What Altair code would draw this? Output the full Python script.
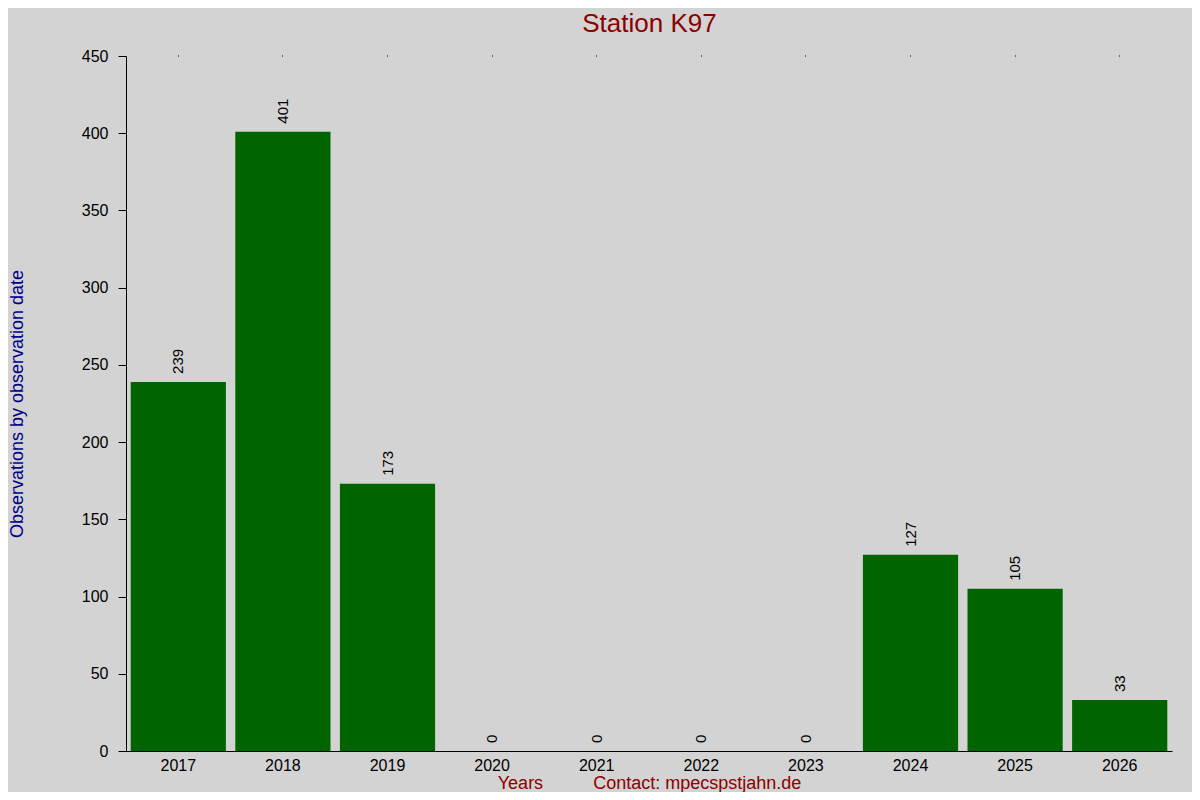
import altair as alt
import pandas as pd

years = ["2017", "2018", "2019", "2020", "2021", "2022", "2023", "2024", "2025", "2026"]
counts = [239, 401, 173, 0, 0, 0, 0, 127, 105, 33]

df = pd.DataFrame({"year": years, "count": counts})

FONT = "Liberation Sans"
x_title = "Years" + "\u00a0" * 10 + "Contact: mpecspstjahn.de"

xscale = alt.Scale(paddingInner=0.09, paddingOuter=0.045)
yscale = alt.Scale(domain=[0, 450], nice=False)

base = alt.Chart(df)

bars = base.mark_bar(color="#006400").encode(
    x=alt.X("year:N", sort=years, scale=xscale,
            axis=alt.Axis(title=x_title, labelAngle=0, tickSize=0, labelPadding=6,
                          labelFontSize=16, labelColor="black", labelFont=FONT,
                          domainColor="black", titleColor="#8b0000", titleFont=FONT,
                          titleFontSize=18, titleFontWeight="normal",
                          titleBaseline="alphabetic", titleY=37)),
    y=alt.Y("count:Q", scale=yscale,
            axis=alt.Axis(title="Observations by observation date", values=list(range(0, 451, 50)),
                          tickSize=8, tickColor="black", domainColor="black", grid=False,
                          labelFontSize=16, labelColor="black", labelFont=FONT, labelPadding=10,
                          titleColor="#00008b", titleFont=FONT, titleFontSize=18,
                          titleFontWeight="normal", titleX=-100, titleBaseline="bottom")),
)

labels = base.mark_text(angle=270, align="left", baseline="middle", dx=8,
                        fontSize=15, font=FONT, color="black").encode(
    x=alt.X("year:N", sort=years, scale=xscale, axis=None),
    y=alt.Y("count:Q", scale=yscale),
    text="count:Q",
)

topticks = base.mark_bar(opacity=0).encode(
    x=alt.X("year:N", sort=years, scale=xscale,
            axis=alt.Axis(orient="top", title="Station K97", labels=False, domain=False,
                          tickSize=1, tickColor="black",
                          titleColor="#8b0000", titleFont=FONT, titleFontSize=26,
                          titleFontWeight="normal", titleBaseline="alphabetic", titleY=-25)),
    y=alt.Y("count:Q", scale=yscale),
)

chart = alt.layer(bars, labels, topticks).resolve_axis(x="independent").properties(
    width=1046, height=695,
    padding={"left": 118, "top": 48, "right": 20, "bottom": 41},
    autosize=alt.AutoSizeParams(type="none"),
    background="#d3d3d3",
).configure_view(stroke=None)

chart.save("out.html", embed_options={"renderer": "svg", "actions": False})
